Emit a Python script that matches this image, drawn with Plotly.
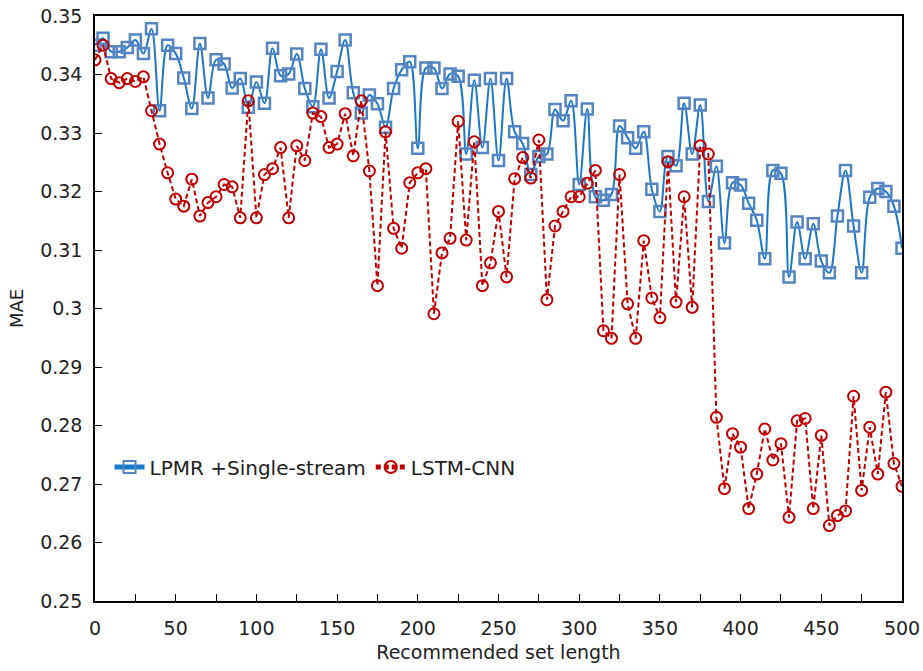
import plotly.graph_objects as go

# recommended set length (x) for both series
set_length = list(range(0, 505, 5))

# LPMR +Single-stream MAE
lpmr_mae = [
    0.3450, 0.3462, 0.3439, 0.3439, 0.3446, 0.3459, 0.3436, 0.3478, 0.3338, 0.3450,
    0.3436, 0.3394, 0.3342, 0.3453, 0.3360, 0.3425, 0.3418, 0.3377, 0.3393, 0.3344,
    0.3387, 0.3351, 0.3445, 0.3398, 0.3401, 0.3435, 0.3376, 0.3345, 0.3443, 0.3360,
    0.3405, 0.3459, 0.3369, 0.3334, 0.3365, 0.3350, 0.3310, 0.3376, 0.3408, 0.3422,
    0.3274, 0.3411, 0.3411, 0.3376, 0.3401, 0.3397, 0.3264, 0.3390, 0.3275, 0.3393,
    0.3253, 0.3393, 0.3302, 0.3282, 0.3229, 0.3260, 0.3264, 0.3340, 0.3321, 0.3355,
    0.3212, 0.3341, 0.3191, 0.3185, 0.3195, 0.3312, 0.3292, 0.3274, 0.3302, 0.3204,
    0.3166, 0.3260, 0.3244, 0.3351, 0.3264, 0.3348, 0.3183, 0.3243, 0.3112, 0.3215,
    0.3211, 0.3180, 0.3151, 0.3085, 0.3236, 0.3231, 0.3054, 0.3148, 0.3085, 0.3145,
    0.3081, 0.3061, 0.3158, 0.3236, 0.3141, 0.3061, 0.3190, 0.3205, 0.3200, 0.3175,
    0.3103,
]

# LSTM-CNN MAE
lstm_mae = [
    0.3425, 0.3450, 0.3393, 0.3386, 0.3393, 0.3388, 0.3396, 0.3338, 0.3281, 0.3232,
    0.3187, 0.3175, 0.3221, 0.3158, 0.3181, 0.3191, 0.3212, 0.3208, 0.3155, 0.3355,
    0.3155, 0.3229, 0.3239, 0.3275, 0.3155, 0.3278, 0.3253, 0.3334, 0.3328, 0.3275,
    0.3281, 0.3333, 0.3261, 0.3355, 0.3235, 0.3039, 0.3302, 0.3137, 0.3103, 0.3215,
    0.3232, 0.3239, 0.2991, 0.3095, 0.3120, 0.3320, 0.3117, 0.3285, 0.3039, 0.3078,
    0.3166, 0.3054, 0.3222, 0.3258, 0.3223, 0.3288, 0.3015, 0.3141, 0.3166, 0.3191,
    0.3191, 0.3214, 0.3236, 0.2962, 0.2949, 0.3229, 0.3008, 0.2949, 0.3116, 0.3018,
    0.2984, 0.3251, 0.3011, 0.3191, 0.3002, 0.3278, 0.3264, 0.2814, 0.2692, 0.2786,
    0.2763, 0.2658, 0.2717, 0.2794, 0.2741, 0.2769, 0.2643, 0.2808, 0.2812, 0.2658,
    0.2783, 0.2629, 0.2646, 0.2654, 0.2850, 0.2689, 0.2797, 0.2717, 0.2857, 0.2735,
    0.2696,
]

font_name = 'DejaVu Sans'
fig = go.Figure()

fig.add_trace(go.Scatter(
    x=set_length, y=lpmr_mae, name='LPMR +Single-stream',
    mode='lines+markers', line=dict(color='#1a78c8', width=2, shape='spline'),
    marker=dict(symbol='square-open', size=11, color='#5585c0', line=dict(width=2.5)),
))
fig.add_trace(go.Scatter(
    x=set_length, y=lstm_mae, name='LSTM-CNN',
    mode='lines+markers', line=dict(color='#c00000', width=2, dash='5px,3px'),
    marker=dict(symbol='circle-open', size=11, color='#c00000', line=dict(width=2)),
))

fig.update_layout(
    width=923, height=671,
    margin=dict(l=95, r=21, t=16, b=70),
    paper_bgcolor='white', plot_bgcolor='white',
    font=dict(family=font_name, size=19, color='#222222'),
    showlegend=True,
    legend=dict(orientation='h', x=0.018, y=0.229, xanchor='left', yanchor='middle',
                bgcolor='rgba(0,0,0,0)', font=dict(size=20), itemsizing='constant'),
)
fig.update_xaxes(
    range=[0, 500], dtick=50, ticks='inside', ticklen=7, tickcolor='black',
    minor=dict(dtick=25, ticks='inside', ticklen=7, tickcolor='black'),
    showline=True, linecolor='black', linewidth=1.5, mirror=True, showgrid=False,
    zeroline=False, automargin=False, ticklabelstandoff=9, ticklabeloverflow='allow',
    title=dict(text='Recommended set length', standoff=8, font=dict(size=19)),
)
fig.update_yaxes(
    range=[0.25, 0.35], dtick=0.01, ticks='inside', ticklen=7, tickcolor='black',
    showline=True, linecolor='black', linewidth=1.5, mirror=True, showgrid=False,
    zeroline=False, automargin=False, ticklabelstandoff=7, ticklabeloverflow='allow',
    title=dict(text='MAE', standoff=12, font=dict(size=18)),
)

# drop the default 8px body margin so the figure sits at the window's top-left corner
fig.write_html('out.html', config={'displayModeBar': False},
               post_script="document.body.style.margin='0px';")
